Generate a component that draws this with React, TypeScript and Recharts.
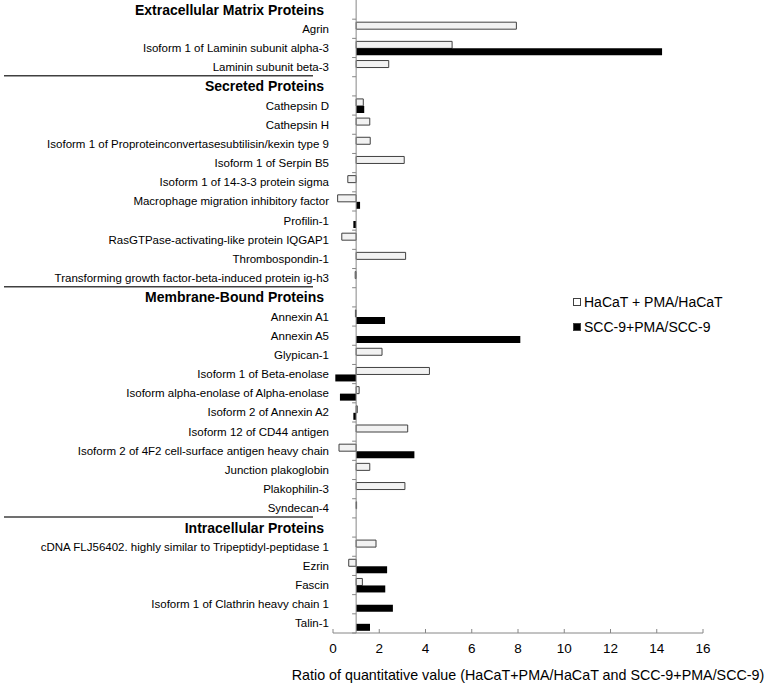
import React from 'react';
import {
  BarChart,
  Bar,
  XAxis,
  YAxis,
  ReferenceLine
} from 'recharts';

// Row labels, top to bottom (section headers are rows without bars)
const categories = [
  'Extracellular Matrix Proteins',
  'Agrin',
  'Isoform 1 of Laminin subunit alpha-3',
  'Laminin subunit beta-3',
  'Secreted Proteins',
  'Cathepsin D',
  'Cathepsin H',
  'Isoform 1 of Proproteinconvertasesubtilisin/kexin type 9',
  'Isoform 1 of Serpin B5',
  'Isoform 1 of 14-3-3 protein sigma',
  'Macrophage migration inhibitory factor',
  'Profilin-1',
  'RasGTPase-activating-like protein IQGAP1',
  'Thrombospondin-1',
  'Transforming growth factor-beta-induced protein ig-h3',
  'Membrane-Bound Proteins',
  'Annexin A1',
  'Annexin A5',
  'Glypican-1',
  'Isoform 1 of Beta-enolase',
  'Isoform alpha-enolase of Alpha-enolase',
  'Isoform 2 of Annexin A2',
  'Isoform 12 of CD44 antigen',
  'Isoform 2 of 4F2 cell-surface antigen heavy chain',
  'Junction plakoglobin',
  'Plakophilin-3',
  'Syndecan-4',
  'Intracellular Proteins',
  'cDNA FLJ56402. highly similar to Tripeptidyl-peptidase 1',
  'Ezrin',
  'Fascin',
  'Isoform 1 of Clathrin heavy chain 1',
  'Talin-1'
];

const headers = [
  'Extracellular Matrix Proteins',
  'Secreted Proteins',
  'Membrane-Bound Proteins',
  'Intracellular Proteins'
];

const hacatRatio = [
  null, 7.93, 5.15, 2.41,
  null, 1.31, 1.59, 1.61, 3.08, 0.64, 0.2, 1, 0.38, 3.14, 0.96,
  null, 0.97, 1, 2.12, 4.17, 1.13, 1.05, 3.23, 0.26, 1.59, 3.11, 1.02,
  null, 1.86, 0.68, 1.27, 1, 1
];

const sccRatio = [
  null, 1, 14.23, 1,
  null, 1.35, 1, 1, 1, 1, 1.17, 0.88, 1, 1, 1,
  null, 2.25, 8.1, 1, 0.1, 0.3, 0.88, 1, 3.52, 1, 1, 1,
  null, 1, 2.34, 2.26, 2.59, 1.6
];

const xTicks = [0, 2, 4, 6, 8, 10, 12, 14, 16];

const seriesNames = ['HaCaT + PMA/HaCaT', 'SCC-9+PMA/SCC-9'];

const data = categories.map((name, i) => ({
  name,
  hacat: hacatRatio[i],
  scc: sccRatio[i]
}));

// ratio bars grow from 1 (axis crosses at 1)
const BASE = 1;
const range = (v: number | null) => (v == null ? null : [Math.min(BASE, v), Math.max(BASE, v)]);

const W = 766;
const H = 689;
const Y_AXIS_W = 333;
const RIGHT = 63;
const X_AXIS_H = 56;
const PLOT_BOTTOM = H - X_AXIS_H;
const BAND = PLOT_BOTTOM / categories.length;
const PLOT_W = W - Y_AXIS_W - RIGHT;
const AXIS_X = Y_AXIS_W + (PLOT_W * BASE) / xTicks[xTicks.length - 1];

const FONT = '"Liberation Sans", Arial, sans-serif';

const CategoryTick = (props: any) => {
  const { x, y, payload, index } = props;
  const isHeader = headers.includes(payload.value);
  const top = y - BAND / 2;
  return (
    <g>
      {index > 0 && (
        <line x1={AXIS_X - 4} x2={AXIS_X} y1={top} y2={top} stroke="#868686" />
      )}
      {index === categories.length - 1 && (
        <line x1={AXIS_X - 4} x2={AXIS_X} y1={y + BAND / 2} y2={y + BAND / 2} stroke="#868686" />
      )}
      {isHeader && index > 0 && (
        <line x1={4} x2={313} y1={top - 1} y2={top - 1} stroke="#404040" strokeWidth={1.5} />
      )}
      <text
        x={isHeader ? x - 5 : x}
        y={y}
        textAnchor="end"
        dominantBaseline="central"
        fontFamily={FONT}
        fontSize={isHeader ? 14 : 11.5}
        fontWeight={isHeader ? 'bold' : 'normal'}
        fill="#000"
      >
        {payload.value}
      </text>
    </g>
  );
};

const ValueTick = (props: any) => {
  const { x, payload } = props;
  return (
    <g>
      <line x1={x} x2={x} y1={PLOT_BOTTOM - 4} y2={PLOT_BOTTOM} stroke="#868686" />
      <text
        x={x}
        y={PLOT_BOTTOM + 15}
        textAnchor="middle"
        dominantBaseline="central"
        fontFamily={FONT}
        fontSize={13.5}
        fill="#000"
      >
        {payload.value}
      </text>
    </g>
  );
};

const LegendBox = () => (
  <div
    style={{
      position: 'absolute',
      left: 573,
      top: 289.5,
      fontFamily: FONT,
      fontSize: 14,
      color: '#000'
    }}
  >
    {seriesNames.map((s, i) => (
      <div key={s} style={{ display: 'flex', alignItems: 'center', height: 25 }}>
        <span
          style={{
            display: 'inline-block',
            width: 6,
            height: 6,
            border: '1px solid #404040',
            background: i === 0 ? '#fff' : '#000',
            marginRight: 3
          }}
        />
        <span>{s}</span>
      </div>
    ))}
  </div>
);

export default function App() {
  return (
    <div style={{ position: 'absolute', left: 0, top: 0, width: W, height: H, background: '#fff' }}>
      <BarChart
        width={W}
        height={H}
        data={data}
        layout="vertical"
        margin={{ top: 0, right: RIGHT, bottom: 0, left: 0 }}
        barGap={0}
        barSize={7}
      >
        <XAxis
          type="number"
          domain={[0, 16]}
          ticks={xTicks}
          height={X_AXIS_H}
          axisLine={{ stroke: '#868686' }}
          tickLine={false}
          tick={(p: any) => <ValueTick {...p} />}
          label={{
            value: 'Ratio of quantitative value (HaCaT+PMA/HaCaT and SCC-9+PMA/SCC-9)',
            position: 'insideBottom',
            offset: 9,
            dx: 10,
            fill: '#000',
            fontSize: 14.3,
            fontFamily: FONT
          }}
        />
        <YAxis
          type="category"
          dataKey="name"
          width={Y_AXIS_W}
          interval={0}
          axisLine={false}
          tickLine={false}
          tickSize={0}
          tickMargin={4}
          tick={(p: any) => <CategoryTick {...p} />}
        />
        <ReferenceLine x={BASE} stroke="#868686" ifOverflow="visible" />
        <Bar
          dataKey={(d: any) => range(d.hacat)}
          name={seriesNames[0]}
          fill="#f2f2f2"
          stroke="#404040"
          strokeWidth={1}
          isAnimationActive={false}
        />
        <Bar
          dataKey={(d: any) => range(d.scc)}
          name={seriesNames[1]}
          fill="#000"
          isAnimationActive={false}
        />
      </BarChart>
      <LegendBox />
    </div>
  );
}
